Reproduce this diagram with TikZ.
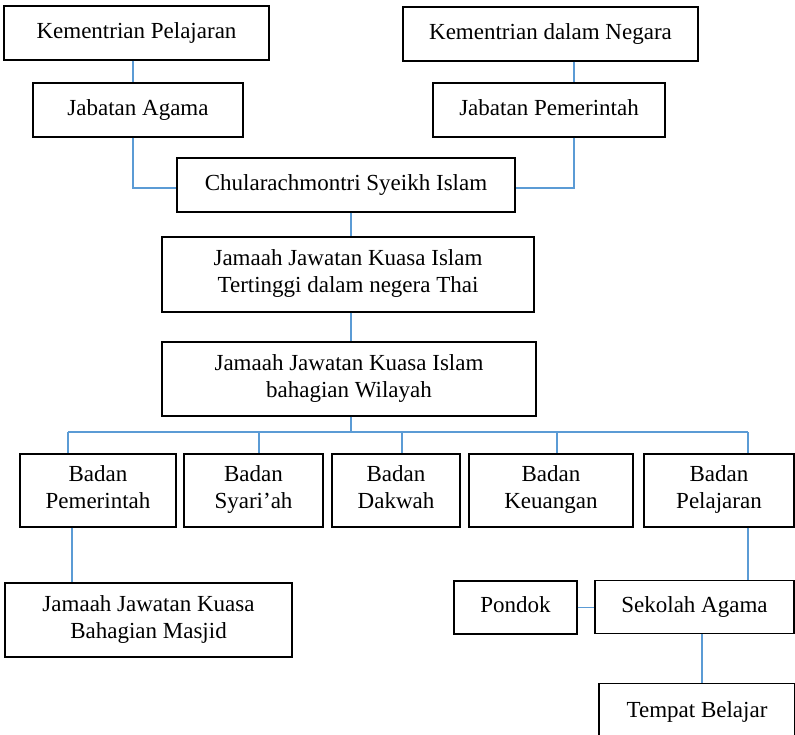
\documentclass[tikz,border=0pt]{standalone}
\usepackage{fontspec}
\setmainfont{Liberation Serif}
\definecolor{linkblue}{HTML}{5B9BD5}
\tikzset{
    unitbase/.style={draw, line width=1.3pt, align=center, inner sep=0pt,
        font=\fontsize{23}{27}\selectfont},
    unit/.style={unitbase, execute at begin node=\strut, execute at end node=\strut},
    unittwo/.style={unitbase, execute at begin node={\rule{0pt}{30pt}},
        execute at end node={\rule[-6.4pt]{0pt}{6.4pt}}},
    link/.style={draw=linkblue, line width=1.2pt}
}
\begin{document}
\begin{tikzpicture}[x=1pt, y=-1pt]
    \useasboundingbox (0,0) rectangle (795,735);
    % Kementrian and Jabatan
    \node[unit, minimum width=265, minimum height=54] (kemPel) at (136.5,33) {Kementrian Pelajaran};
    \node[unit, minimum width=210, minimum height=54] (jabAgama) at (138,110) {Jabatan Agama};
    \node[unit, minimum width=295, minimum height=54] (kemDN) at (550.5,34) {Kementrian dalam Negara};
    \node[unit, minimum width=232, minimum height=54] (jabPem) at (549,110) {Jabatan Pemerintah};
    \node[unit, minimum width=338, minimum height=54] (chula) at (346,185) {Chularachmontri Syeikh Islam};
    % Jamaah Jawatan Kuasa
    \node[unittwo, minimum width=372, minimum height=75] (jjkTinggi) at (348,274.5) {Jamaah Jawatan Kuasa Islam\\Tertinggi dalam negera Thai};
    \node[unittwo, minimum width=374, minimum height=74] (jjkWilayah) at (349,379) {Jamaah Jawatan Kuasa Islam\\bahagian Wilayah};
    % Badan
    \node[unittwo, minimum width=156, minimum height=73] (bPem) at (98,490.5) {Badan\\Pemerintah};
    \node[unittwo, minimum width=139, minimum height=73] (bSyariah) at (253.5,490.5) {Badan\\Syari’ah};
    \node[unittwo, minimum width=128, minimum height=73] (bDakwah) at (396,490.5) {Badan\\Dakwah};
    \node[unittwo, minimum width=164, minimum height=73] (bKeuangan) at (551,490.5) {Badan\\Keuangan};
    \node[unittwo, minimum width=150, minimum height=73] (bPelajaran) at (719,490.5) {Badan\\Pelajaran};
    % Bottom level
    \node[unittwo, minimum width=287, minimum height=74] (masjid) at (148.5,620) {Jamaah Jawatan Kuasa\\Bahagian Masjid};
    \node[unit, minimum width=123, minimum height=53] (pondok) at (515.5,607.5) {Pondok};
    \node[unit, minimum width=199, minimum height=53] (sekolah) at (694.5,607) {Sekolah Agama};
    \node[unit, minimum width=196, minimum height=57] (tempat) at (697,712) {Tempat Belajar};
    % Connectors
    \coordinate (aL) at (133,188);
    \coordinate (aR) at (574,188);
    \coordinate (bus) at (351,432);
    \draw[link] (kemPel.south -| aL) -- (jabAgama.north -| aL);
    \draw[link] (jabAgama.south -| aL) -- (aL) -- (aL -| chula.west);
    \draw[link] (kemDN.south -| aR) -- (jabPem.north -| aR);
    \draw[link] (jabPem.south -| aR) -- (aR) -- (aR -| chula.east);
    \draw[link] (chula.south -| bus) -- (jjkTinggi.north -| bus);
    \draw[link] (jjkTinggi.south -| bus) -- (jjkWilayah.north -| bus);
    \draw[link] (jjkWilayah.south -| bus) -- (bus);
    \draw[link] (bus -| 68,0) -- (bus -| 748,0);
    \foreach \n/\x in {bPem/68, bSyariah/259, bDakwah/402, bKeuangan/557, bPelajaran/748}
        \draw[link] (bus -| \x,0) -- (\n.north -| \x,0);
    \draw[link] (bPem.south -| 72,0) -- (masjid.north -| 72,0);
    \draw[link] (bPelajaran.south -| 748,0) -- (sekolah.north -| 748,0);
    \draw[link] (pondok.east) -- (pondok.east -| sekolah.west);
    \draw[link] (sekolah.south -| 702,0) -- (tempat.north -| 702,0);
\end{tikzpicture}
\end{document}
